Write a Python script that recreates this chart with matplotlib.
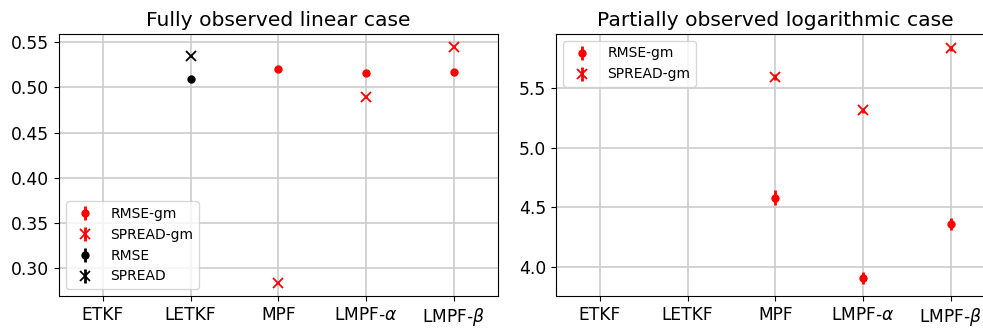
import numpy as np
import matplotlib
matplotlib.use("Agg")
import matplotlib.pyplot as plt

methods = ["ETKF", "LETKF", "MPF", r"LMPF-$\alpha$", r"LMPF-$\beta$"]
nan = np.nan

# Fully observed linear case
lin_rmse_gm = [nan, nan, 0.520, 0.516, 0.517]
lin_rmse_gm_err = [nan, nan, 0.001, 0.001, 0.001]
lin_spread_gm = [nan, nan, 0.283, 0.489, 0.545]
lin_spread_gm_err = [nan, nan, 0.001, 0.001, 0.001]
lin_rmse = [nan, 0.509, nan, nan, nan]
lin_rmse_err = [nan, 0.001, nan, nan, nan]
lin_spread = [nan, 0.535, nan, nan, nan]
lin_spread_err = [nan, 0.001, nan, nan, nan]

# Partially observed logarithmic case
log_rmse_gm = [nan, nan, 4.58, 3.91, 4.36]
log_rmse_gm_err = [nan, nan, 0.063, 0.052, 0.050]
log_spread_gm = [nan, nan, 5.59, 5.31, 5.83]
log_spread_gm_err = [nan, nan, 0.025, 0.02, 0.02]

x = np.arange(len(methods))

fig = plt.figure(figsize=(9.83, 3.29), dpi=100)
ax1 = fig.add_axes([59 / 983, 33 / 329, 438.5 / 983, 262 / 329])
ax2 = fig.add_axes([556 / 983, 33 / 329, 438.5 / 983, 262 / 329])

dot = dict(fmt="o", ms=5, elinewidth=2)
cross = dict(fmt="x", ms=7, mew=1.3, elinewidth=2)

ax1.errorbar(x, lin_rmse_gm, yerr=lin_rmse_gm_err, color="red", label="RMSE-gm", **dot)
ax1.errorbar(x, lin_spread_gm, yerr=lin_spread_gm_err, color="red", label="SPREAD-gm", **cross)
ax1.errorbar(x, lin_rmse, yerr=lin_rmse_err, color="black", label="RMSE", **dot)
ax1.errorbar(x, lin_spread, yerr=lin_spread_err, color="black", label="SPREAD", **cross)
ax1.set_title("Fully observed linear case", fontsize=14.6)
ax1.legend(loc="lower left", fontsize=10)

ax2.errorbar(x, log_rmse_gm, yerr=log_rmse_gm_err, color="red", label="RMSE-gm", **dot)
ax2.errorbar(x, log_spread_gm, yerr=log_spread_gm_err, color="red", label="SPREAD-gm", **cross)
ax2.set_title("Partially observed logarithmic case", fontsize=14.6)
ax2.legend(loc="upper left", fontsize=10)

for ax in (ax1, ax2):
    ax.set_xticks(x)
    ax.set_xticklabels(methods)
    ax.set_xlim(-0.5, 4.5)
    ax.tick_params(labelsize=12.3)
    ax.grid(True, color="#cccccc", linewidth=1.2)
    ax.set_axisbelow(True)

ax1.set_yticks([0.30, 0.35, 0.40, 0.45, 0.50, 0.55])
ax2.set_yticks([4.0, 4.5, 5.0, 5.5])

fig.savefig("out.png", dpi=100)
